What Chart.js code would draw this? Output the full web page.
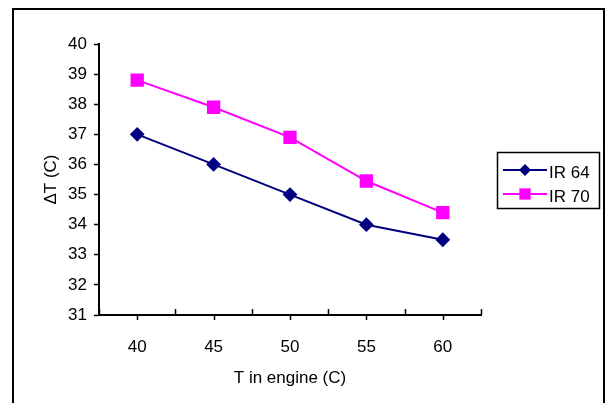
<!DOCTYPE html>
<html>
<head>
<meta charset="utf-8">
<script src="https://cdn.jsdelivr.net/npm/chart.js@4"></script>
<style>
  html, body { margin: 0; padding: 0; background: #fff; }
  canvas { display: block; }
</style>
</head>
<body>
<canvas id="grafico" width="609" height="403"></canvas>
<script>
// dados do gráfico
const temperaturas = ["40", "45", "50", "55", "60"];
const ir64 = [37, 36, 35, 34, 33.5];
const ir70 = [38.8, 37.9, 36.9, 35.45, 34.4];
const nomesSeries = ["IR 64", "IR 70"];

const fonte = { family: "'Liberation Sans', Arial, sans-serif", size: 17 };

// moldura externa, marcas do eixo x e legenda com caixa
const extras = {
    id: 'extras',
    afterDraw(chart) {
        const ctx = chart.ctx;
        const x = chart.scales.x;
        const base = chart.chartArea.bottom;
        ctx.save();
        ctx.strokeStyle = '#000';

        // moldura
        ctx.lineWidth = 2;
        ctx.strokeRect(13, 9, 591, 410);

        // marcas do eixo x
        ctx.lineWidth = 1.5;
        ctx.beginPath();
        for (let i = 0; i <= temperaturas.length; i++) {
            const px = Math.round(x.getPixelForValue(i - 0.5)) + 0.5;
            ctx.moveTo(px, base);
            ctx.lineTo(px, base - 6);
        }
        for (let i = 0; i < temperaturas.length; i++) {
            const px = Math.round(x.getPixelForValue(i)) + 0.5;
            ctx.moveTo(px, base);
            ctx.lineTo(px, base + 5);
        }
        ctx.stroke();

        // legenda
        ctx.lineWidth = 1.5;
        ctx.strokeRect(497.5, 152.5, 102, 56);
        const linhas = [170, 194];
        chart.data.datasets.forEach((ds, i) => {
            const y = linhas[i];
            ctx.strokeStyle = ds.borderColor;
            ctx.lineWidth = 2;
            ctx.beginPath();
            ctx.moveTo(503, y);
            ctx.lineTo(547, y);
            ctx.stroke();
            ctx.fillStyle = ds.backgroundColor;
            Chart.helpers.drawPoint(ctx, {
                pointStyle: ds.pointStyle,
                radius: ds.pointRadius,
                borderWidth: 0,
                rotation: 0
            }, 525, y);
            ctx.fillStyle = '#000';
            ctx.font = "17px 'Liberation Sans', Arial, sans-serif";
            ctx.textBaseline = 'middle';
            ctx.textAlign = 'left';
            ctx.fillText(ds.label, 549, y + 3);
        });
        ctx.restore();
    }
};

new Chart(document.getElementById('grafico').getContext('2d'), {
    type: 'line',
    data: {
        labels: temperaturas,
        datasets: [{
            label: nomesSeries[0],
            data: ir64,
            borderColor: '#000080',
            backgroundColor: '#000080',
            borderWidth: 2,
            pointStyle: 'rectRot',
            pointRadius: 6,
            pointHoverRadius: 6,
            tension: 0
        }, {
            label: nomesSeries[1],
            data: ir70,
            borderColor: '#ff00ff',
            backgroundColor: '#ff00ff',
            borderWidth: 2,
            pointStyle: 'rect',
            pointRadius: 8,
            pointHoverRadius: 8,
            tension: 0
        }]
    },
    options: {
        responsive: false,
        animation: false,
        devicePixelRatio: 1,
        layout: { padding: { top: 44, right: 128, bottom: 0, left: 0 } },
        plugins: {
            legend: { display: false },
            tooltip: { enabled: false }
        },
        scales: {
            x: {
                offset: true,
                grid: { display: false, drawTicks: false, offset: true },
                border: { display: true, color: '#000', width: 2 },
                ticks: { color: '#000', font: fonte, padding: 22, maxRotation: 0 },
                title: {
                    display: true,
                    text: 'T in engine (C)',
                    color: '#000',
                    font: fonte,
                    padding: { top: 0, bottom: 14 }
                },
                afterFit(scale) { scale.height = 88; }
            },
            y: {
                min: 31,
                max: 40,
                grid: { drawOnChartArea: false, color: '#000', tickLength: 5, tickWidth: 1.5 },
                border: { display: true, color: '#000', width: 2 },
                ticks: { stepSize: 1, color: '#000', font: fonte, padding: 7 },
                title: {
                    display: true,
                    text: 'ΔT (C)',
                    color: '#000',
                    font: fonte,
                    padding: { top: 41, bottom: 0 }
                },
                afterFit(scale) { scale.width = 99; }
            }
        }
    },
    plugins: [extras]
});
</script>
</body>
</html>
